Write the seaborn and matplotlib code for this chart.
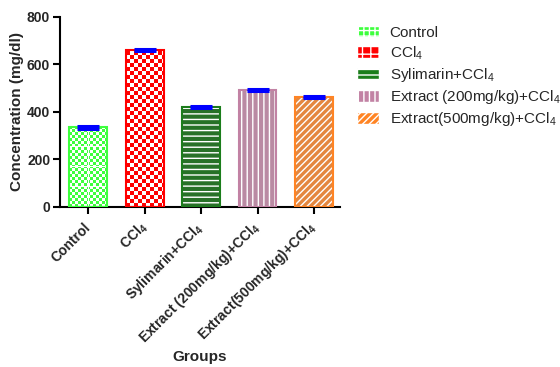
import matplotlib
matplotlib.use("Agg")
import matplotlib.pyplot as plt
import matplotlib.patches as mpatches
from matplotlib.colors import to_rgba, to_rgb
import numpy as np
import seaborn as sns

# --- Data ---
GROUPS = ["Control", "CCl4", "Sylimarin+CCl4",
          "Extract (200mg/kg)+CCl4", "Extract(500mg/kg)+CCl4"]
TICK_LABELS = ["Control", r"CCl$_\mathbf{4}$", r"Sylimarin+CCl$_\mathbf{4}$",
               r"Extract (200mg/kg)+CCl$_\mathbf{4}$", r"Extract(500mg/kg)+CCl$_\mathbf{4}$"]
LEGEND_LABELS = ["Control", r"CCl$_4$", r"Sylimarin+CCl$_4$",
                 r"Extract (200mg/kg)+CCl$_4$", r"Extract(500mg/kg)+CCl$_4$"]
MEANS = [335, 660, 421, 491, 461]
SEM = [5, 5, 5, 4, 4]

COLORS = ["#3dff3d", "#ff0000", "#1b7d1b", "#c282a4", "#ff8424"]
HATCHES = [None, None, "---", "|||", "/////"]
CHECKER = {0: 3, 1: 4}  # bar index -> checker cell size in px

sns.set_style("ticks")
plt.rcParams["font.family"] = ["Liberation Sans", "DejaVu Sans"]
plt.rcParams["mathtext.fontset"] = "custom"
plt.rcParams["mathtext.rm"] = "Liberation Sans"
plt.rcParams["mathtext.it"] = "Liberation Sans:italic"
plt.rcParams["mathtext.bf"] = "Liberation Sans:bold"
plt.rcParams["hatch.color"] = "white"
plt.rcParams["hatch.linewidth"] = 1.0

fig = plt.figure(figsize=(5.6, 3.67), dpi=100)
ax = fig.add_axes([0.107, 0.436, 0.5, 0.518])

sns.barplot(x=GROUPS, y=MEANS, hue=GROUPS, palette=COLORS, width=0.67,
            legend=False, ax=ax, linewidth=1.5, zorder=3)
ax.set_xlim(-0.5, 4.46)
ax.set_ylim(0, 800)

white = np.array(to_rgb("white"))
for i, (p, c, h) in enumerate(zip(ax.patches, COLORS, HATCHES)):
    p.set_edgecolor(c)
    if h:
        p.set_hatch(h)
        p._hatch_color = to_rgba("white")
    if i in CHECKER:
        # checkerboard fill drawn as a clipped image
        cell = CHECKER[i]
        (x0, y0), (x1, y1) = ax.transData.transform(
            [(p.get_x(), 0), (p.get_x() + p.get_width(), p.get_height())])
        w_px, h_px = int(round(x1 - x0)), int(round(y1 - y0))
        jj, ii = np.meshgrid(np.arange(w_px), np.arange(h_px))
        mask = ((ii // cell + jj // cell) % 2) == 1
        if i == 0:
            mask |= (ii % 20 == 0) | (jj == w_px // 2)
        img = np.where(mask[..., None], white, np.array(to_rgb(c)))
        im = ax.imshow(img, extent=(p.get_x(), p.get_x() + p.get_width(),
                                    p.get_height(), 0),
                       interpolation="nearest", aspect="auto", zorder=2)
        im.set_clip_path(p)
        p.set_facecolor("none")
        ax.set_ylim(0, 800)

ax.errorbar(x=np.arange(len(GROUPS)), y=MEANS, yerr=SEM, fmt="none",
            ecolor="#0000ff", elinewidth=1.5, capsize=8, capthick=2.2, zorder=4)

ax.set_yticks([0, 200, 400, 600, 800])
ax.set_xticks(np.arange(len(GROUPS)))
ax.set_xticklabels(TICK_LABELS, rotation=45, ha="right", va="center",
                   rotation_mode="anchor", fontsize=10, fontweight="bold")
for t in ax.get_yticklabels():
    t.set_fontweight("bold")
    t.set_fontsize(10)
ax.tick_params(axis="both", length=5, width=1.5, color="black", pad=4)
ax.tick_params(axis="y", pad=2)
ax.tick_params(axis="x", pad=8)
for s in ["left", "bottom"]:
    ax.spines[s].set_linewidth(1.5)
    ax.spines[s].set_color("black")
sns.despine(ax=ax)

ax.set_ylabel("Concentration (mg/dl)", fontsize=11, fontweight="bold", labelpad=2)
ax.set_xlabel("Groups", fontsize=11, fontweight="bold", labelpad=2)

# --- Legend ---
handles = []
for i, (c, h) in enumerate(zip(COLORS, HATCHES)):
    hh = h
    if i in CHECKER:
        hh = "+++" if i == 0 else "++"
    handles.append(mpatches.Patch(facecolor=c, hatch=hh, label=LEGEND_LABELS[i]))
fig.legend(handles=handles, loc="upper left", bbox_to_anchor=(0.637, 0.93),
           frameon=False, fontsize=11, handlelength=1.45, handleheight=0.8,
           handletextpad=0.7, labelspacing=0.28, borderpad=0, borderaxespad=0)

fig.savefig("out.png", dpi=100, facecolor="white")
